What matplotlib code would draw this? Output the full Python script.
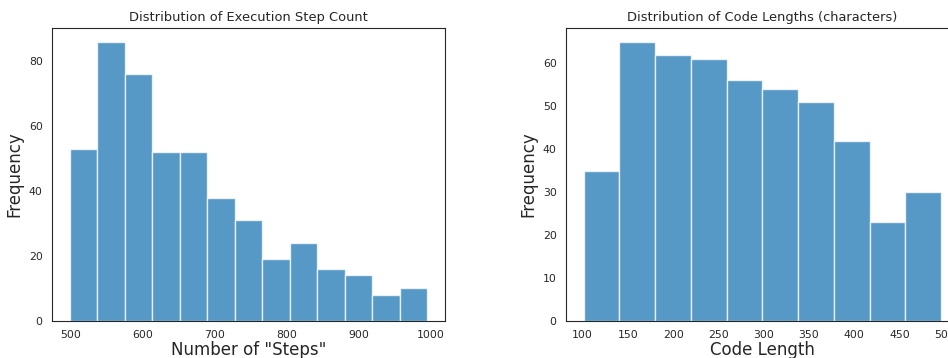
import numpy as np
import matplotlib
matplotlib.use('Agg')
import matplotlib.pyplot as plt
import seaborn as sns

# histogram counts
step_counts = [53, 86, 76, 52, 52, 38, 31, 19, 24, 16, 14, 8, 10]
step_min, step_max = 498, 995
code_counts = [35, 65, 62, 61, 56, 54, 51, 42, 23, 30]
code_min, code_max = 101, 496

sns.set_style('white')
plt.rcParams['font.family'] = ['DejaVu Sans']

fig = plt.figure(figsize=(9.48, 3.58), dpi=100)
ax1 = fig.add_axes([0.0545, 0.104, 0.415, 0.818])
ax2 = fig.add_axes([0.5967, 0.104, 0.415, 0.818])

color = sns.color_palette()[0]

def draw(ax, counts, lo, hi, title, xlabel):
    edges = np.linspace(lo, hi, len(counts) + 1)
    ax.hist(edges[:-1], bins=edges, weights=counts, color=color, alpha=0.75,
            edgecolor='white', linewidth=1)
    ax.margins(x=0.05, y=0.05)
    ax.set_title(title, fontsize=9.4, pad=5)
    ax.set_xlabel(xlabel, fontsize=12, labelpad=1)
    ax.set_ylabel('Frequency', fontsize=12, labelpad=4)
    ax.tick_params(labelsize=7.8, pad=3)

draw(ax1, step_counts, step_min, step_max, 'Distribution of Execution Step Count', 'Number of "Steps"')
ax1.set_xticks([500, 600, 700, 800, 900, 1000])
ax1.set_yticks([0, 20, 40, 60, 80])

draw(ax2, code_counts, code_min, code_max, 'Distribution of Code Lengths (characters)', 'Code Length')
ax2.set_xticks([100, 150, 200, 250, 300, 350, 400, 450, 500])
ax2.set_yticks([0, 10, 20, 30, 40, 50, 60])

fig.savefig('out.png', dpi=100)
